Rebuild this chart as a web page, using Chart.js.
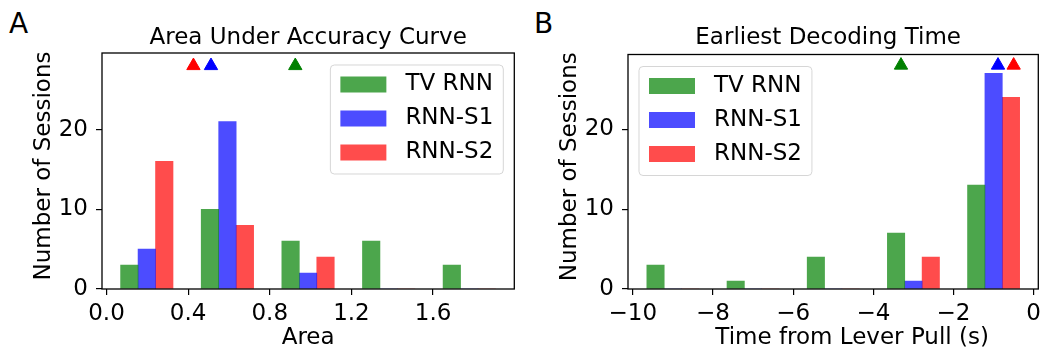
<!DOCTYPE html>
<html>
<head>
<meta charset="utf-8">
<script src="https://cdn.jsdelivr.net/npm/chart.js@4.4.1/dist/chart.umd.min.js"></script>
<style>
  body { margin: 0; background: #fff; width: 1047px; height: 351px; overflow: hidden; position: relative; }
  .panel { position: absolute; top: 0; height: 351px; }
  .letter { position: absolute; font: 28px/1 "DejaVu Sans"; color: #000; }
</style>
</head>
<body>
<div class="letter" style="left:9px;top:9.6px">A</div>
<div class="letter" style="left:534px;top:9.6px">B</div>
<div class="panel" style="left:0;width:523px"><canvas id="chart-auc"></canvas></div>
<div class="panel" style="left:523px;width:524px"><canvas id="chart-edt"></canvas></div>
<script>
// series shared by both panels
const SERIES = ["TV RNN", "RNN-S1", "RNN-S2"];
const BAR_COLORS = ["rgba(0,128,0,0.7)", "rgba(0,0,255,0.7)", "rgba(255,0,0,0.7)"];
const MARKER_COLORS = ["#008000", "#0000ff", "#ff0000"];
const COUNT_TICKS = [0, 10, 20];
const MARKER_Y = 28;

// panel A — area under accuracy curve
const AUC_BIN_CENTERS = [0.1975, 0.5925, 0.9875, 1.3825, 1.7775];
const AUC_TV = [3, 10, 6, 6, 3];
const AUC_S1 = [5, 21, 2, 0, 0];
const AUC_S2 = [16, 8, 4, 0, 0];
const AUC_MEANS = [0.925, 0.512, 0.426];
const AUC_TICKS = [0, 0.4, 0.8, 1.2, 1.6];

// panel B — earliest decoding time
const EDT_BIN_CENTERS = [-9, -7, -5, -3, -1];
const EDT_TV = [3, 1, 4, 7, 13];
const EDT_S1 = [0, 0, 0, 1, 27];
const EDT_S2 = [0, 0, 0, 4, 24];
const EDT_MEANS = [-3.31, -0.89, -0.5];
const EDT_TICKS = [-10, -8, -6, -4, -2, 0];

const FONT = { family: "DejaVu Sans", size: 23, lineHeight: 1.2, weight: "normal" };
const GROUP_FRAC = 0.65; // the three bars fill this share of each bin

Chart.defaults.font.family = "DejaVu Sans";
Chart.defaults.color = "#000";

// black box round the axes
const axesFrame = {
  id: "axesFrame",
  afterDatasetsDraw(chart) {
    const { ctx, chartArea: a } = chart;
    ctx.save();
    ctx.strokeStyle = "#000";
    ctx.lineWidth = 1.3;
    ctx.strokeRect(a.left, a.top, a.right - a.left, a.bottom - a.top);
    ctx.restore();
  },
};

// title and axis labels, placed like the original figure (not always centred)
const axisText = {
  id: "axisText",
  afterDraw(chart, args, o) {
    const { ctx, chartArea: a } = chart;
    const cx = (a.left + a.right) / 2;
    const cy = (a.top + a.bottom) / 2;
    ctx.save();
    ctx.font = "23px 'DejaVu Sans'";
    ctx.fillStyle = "#000";
    ctx.textAlign = "center";
    ctx.textBaseline = "middle";
    ctx.fillText(o.title, cx + o.titleShift, 38);
    ctx.fillText(o.xLabel, cx + o.xLabelShift, 338);
    ctx.translate(a.left - 58, cy - 5);
    ctx.rotate(-Math.PI / 2);
    ctx.fillText(o.yLabel, 0, 0);
    ctx.restore();
  },
};

// matplotlib-like legend box drawn inside the axes
const boxLegend = {
  id: "boxLegend",
  afterDraw(chart, args, opts) {
    const { ctx, chartArea: a } = chart;
    const bars = chart.data.datasets.filter(d => d.type !== "scatter");
    ctx.save();
    ctx.font = "23px 'DejaVu Sans'";
    const textW = Math.max(...bars.map(d => ctx.measureText(d.label).width));
    const w = 10 + 46 + 19 + textW + 10;
    const h = 109;
    const left = opts.side === "right" ? a.right - 11 - w : a.left + 11;
    const top = a.top + 12;

    ctx.beginPath();
    ctx.roundRect(left, top, w, h, 4);
    ctx.fillStyle = "rgba(255,255,255,0.8)";
    ctx.fill();
    ctx.strokeStyle = "rgba(204,204,204,0.8)";
    ctx.lineWidth = 1;
    ctx.stroke();

    bars.forEach((d, i) => {
      const cy = top + 19.5 + 34 * i;
      ctx.fillStyle = d.backgroundColor;
      ctx.fillRect(left + 10, cy - 8, 46, 16);
      ctx.fillStyle = "#000";
      ctx.textBaseline = "middle";
      ctx.textAlign = "left";
      ctx.fillText(d.label, left + 10 + 46 + 19, cy);
    });
    ctx.restore();
  },
};

function makePanel(canvasId, cfg) {
  const binWidth = cfg.centers[1] - cfg.centers[0];
  const barW = binWidth * GROUP_FRAC / 3;
  const counts = [cfg.tv, cfg.s1, cfg.s2];

  const barSets = SERIES.map((name, k) => ({
    label: name,
    data: counts[k].map((c, i) => ({ x: cfg.centers[i] + (k - 1) * barW, y: c })),
    backgroundColor: BAR_COLORS[k],
    borderWidth: 0,
    grouped: false,
    categoryPercentage: 1,
    barPercentage: 1,
    order: 2,
  }));

  const markerSets = cfg.means.map((m, k) => ({
    type: "scatter",
    label: SERIES[k] + " mean",
    data: [{ x: m, y: MARKER_Y }],
    pointStyle: "triangle",
    pointRadius: 7.7,
    backgroundColor: MARKER_COLORS[k],
    borderColor: MARKER_COLORS[k],
    borderWidth: 1,
    clip: false,
    order: 1,
  }));

  const tickGrid = { offset: false, drawOnChartArea: false, drawTicks: true, tickLength: 6, color: "#000", lineWidth: 1.2 };

  return new Chart(document.getElementById(canvasId), {
    type: "bar",
    data: { datasets: [...barSets, ...markerSets] },
    options: {
      responsive: true,
      maintainAspectRatio: false,
      animation: false,
      layout: { padding: { left: 0, right: cfg.padRight, top: cfg.padTop, bottom: 0 } },
      plugins: {
        legend: { display: false },
        tooltip: { enabled: false },
        boxLegend: { side: cfg.legendSide },
        axisText: {
          title: cfg.title, titleShift: cfg.titleShift,
          xLabel: cfg.xLabel, xLabelShift: cfg.xLabelShift,
          yLabel: "Number of Sessions",
        },
      },
      scales: {
        x: {
          type: "linear",
          bounds: "data",
          min: cfg.xMin,
          max: cfg.xMax,
          offset: false,
          afterBuildTicks: s => { s.ticks = cfg.ticks.map(v => ({ value: v })); },
          afterFit: s => { s.height = 62; },
          grid: tickGrid,
          border: { display: false },
          ticks: { color: "#000", font: FONT, padding: 4.9, maxRotation: 0, autoSkip: false, callback: cfg.fmt },
        },
        y: {
          bounds: "data",
          min: 0,
          max: cfg.yMax,
          afterBuildTicks: s => { s.ticks = COUNT_TICKS.map(v => ({ value: v })); },
          afterFit: s => { s.width = cfg.axisLeft; },
          grid: tickGrid,
          border: { display: false },
          ticks: { color: "#000", font: FONT, padding: 8 },
        },
      },
    },
    plugins: [axesFrame, axisText, boxLegend],
  });
}

makePanel("chart-auc", {
  title: "Area Under Accuracy Curve", titleShift: 0,
  xLabel: "Area", xLabelShift: 0,
  centers: AUC_BIN_CENTERS, tv: AUC_TV, s1: AUC_S1, s2: AUC_S2, means: AUC_MEANS,
  ticks: AUC_TICKS,
  fmt: v => Number(v).toFixed(1),
  xMin: -0.022, xMax: 1.998, yMax: 29.6,
  axisLeft: 102, padRight: 3.5, padTop: 53,
  legendSide: "right",
});

makePanel("chart-edt", {
  title: "Earliest Decoding Time", titleShift: -5,
  xLabel: "Time from Lever Pull (s)", xLabelShift: 19,
  centers: EDT_BIN_CENTERS, tv: EDT_TV, s1: EDT_S1, s2: EDT_S2, means: EDT_MEANS,
  ticks: EDT_TICKS,
  fmt: v => (v < 0 ? "\u2212" + Math.abs(v) : String(v)),
  xMin: -10.12, xMax: 0.115, yMax: 29.35,
  axisLeft: 105, padRight: 5.5, padTop: 54.5,
  legendSide: "left",
});
</script>
</body>
</html>
